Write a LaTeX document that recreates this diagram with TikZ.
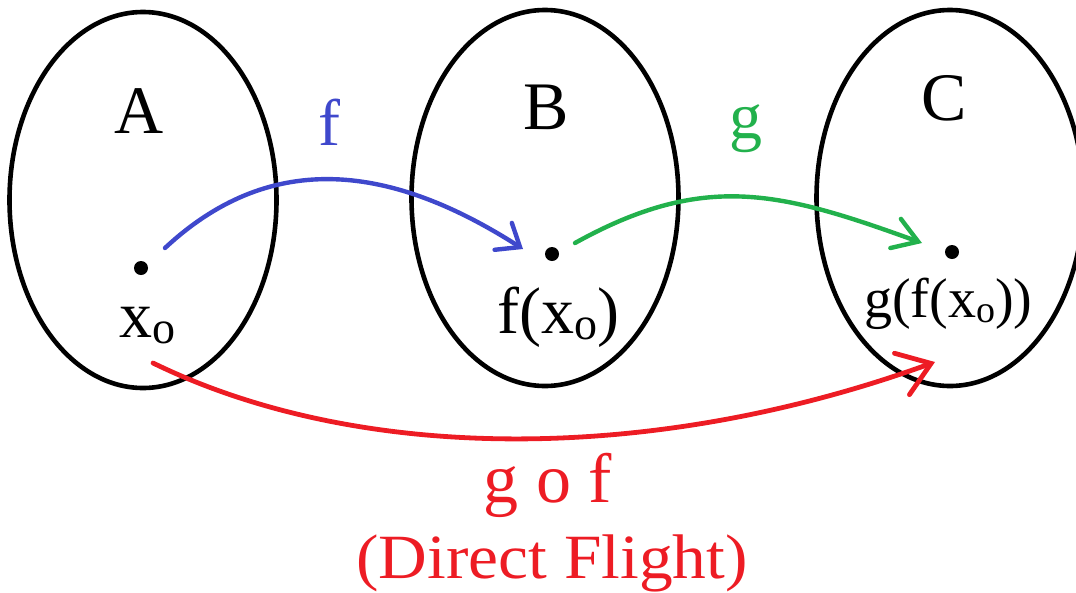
\documentclass[tikz,border=0pt]{standalone}
\usepackage{fontspec}
\setmainfont{Liberation Serif}
\usetikzlibrary{shapes.geometric,arrows.meta}
\definecolor{pblue}{HTML}{3F48CC}
\definecolor{pgreen}{HTML}{22B14C}
\definecolor{pred}{HTML}{ED1C24}
\newcommand{\fs}[1]{\fontsize{#1}{#1}\selectfont}
\newcommand{\subo}[2]{\raisebox{-#1pt}{\fs{#2}o}}
\tikzset{
  set/.style={ellipse, draw, line width=4.6pt, minimum width=267pt, minimum height=376pt, inner sep=0pt},
  pt/.style={circle, fill, inner sep=0pt, minimum size=14pt},
  big/.style={inner sep=0pt, font=\fs{66}},
  mapto/.style={line width=4.4pt, line cap=round},
}
\begin{document}
\begin{tikzpicture}[x=1pt,y=-1pt]
\useasboundingbox (0,0) rectangle (1076,592);
\clip (0,0) rectangle (1076,592);
% sets
\node[set] (A) at (143,200) {};
\node[set] (B) at (545,198) {};
\node[set] (C) at (950,198) {};
% set names
\node[big, anchor=base] (lA) at (139,133) {\fs{68}A};
\node[big, anchor=base] (lB) at (546,129) {\fs{68}B};
\node[big, anchor=base] (lC) at (944,120) {\fs{68}C};
% points
\node[pt] (a) at (141,268) {};
\node[pt] (b) at (552,254) {};
\node[pt] (c) at (952,252) {};
% point labels
\node[big, anchor=base west] (la) at (119,337) {x\subo{6}{46}};
\node[big, anchor=base west] (lb) at (497,333) {f(x\subo{6}{46})};
\node[big, anchor=base west] (lc) at (864,317) {\fs{56}g(f(x\subo{5}{38}))};
% arrow anchor points
\coordinate (f0) at (165,248);
\coordinate (f1) at (523,249);
\coordinate (g0) at (575,243);
\coordinate (g1) at (922,243);
\coordinate (h0) at (153,363);
\coordinate (h1) at (935,362);
% arrows
\draw[mapto, pblue, -{Straight Barb[length=20pt, width=32pt, line cap=round]}]
  (f0) .. controls (267,153) and (384,160) .. (f1);
\draw[mapto, pgreen, -{Straight Barb[length=24pt, width=31pt, line cap=round]}]
  (g0) .. controls (705,171) and (781,192) .. (g1);
\draw[mapto, pred, line width=4.8pt, -{Straight Barb[length=31pt, width=44pt, line cap=round]}]
  (h0) .. controls (360,464) and (653,464) .. (h1);
% arrow labels
\node[big, anchor=base, text=pblue] (lf) at (329,145) {f};
\node[big, anchor=base, text=pgreen] (lg) at (746,138) {g};
\node[big, anchor=base, text=pred] (lgof) at (548,502) {\fs{70}g o f};
\node[big, anchor=base, text=pred, xscale=1.07] (ldf) at (552,578) {\fs{63}(Direct Flight)};
\end{tikzpicture}
\end{document}
